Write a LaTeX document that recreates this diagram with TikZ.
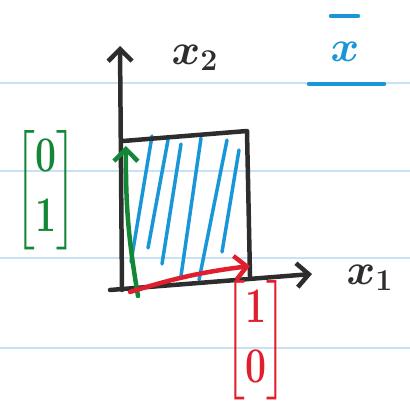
\documentclass[tikz,border=0pt]{standalone}
\usepackage{amsmath}
\usetikzlibrary{arrows.meta}
\definecolor{ink}{RGB}{45,45,45}
\definecolor{penblue}{RGB}{25,150,215}
\definecolor{pengreen}{RGB}{20,135,55}
\definecolor{penred}{RGB}{225,30,45}
\definecolor{rule}{RGB}{200,225,245}
\tikzset{
  pen/.style={line width=4.5pt, line cap=round, line join=round},
  rulestyle/.style={draw=rule, line width=1.5pt},
  hatch/.style={pen, draw=penblue, line width=3.5pt},
  openhead/.style={-{Straight Barb[length=12pt,width=24pt,line width=4.5pt]}},
  lbl/.style={inner sep=0pt},
}
\newcommand{\biglbl}[1]{\scalebox{2.1}{\huge\boldmath #1}}
\newcommand{\vecbig}[1]{\scalebox{1.8}[2.4]{\huge\boldmath #1}}
\begin{document}
\begin{tikzpicture}[x=1pt,y=-1pt]
\useasboundingbox (0,0) rectangle (410,409);
% ruled lines
\foreach \yy in {83,171,258,348} \draw[rulestyle] (0,\yy) -- (410,\yy);
% coordinates
\coordinate (O) at (122,290);
\coordinate (Y) at (120,46);
\coordinate (Xs) at (110,290);
\coordinate (X) at (312,274);
\coordinate (TL) at (123,141);
\coordinate (TR) at (247,131);
\coordinate (BR) at (250,276);
% hatching
\draw[hatch] (131,262) -- (152,136);
\draw[hatch] (148,248) -- (168,140);
\draw[hatch] (162,264) -- (181,144);
\draw[hatch] (181,276) -- (201,138);
\draw[hatch] (199,280) -- (227,140);
\draw[hatch] (222,252) -- (239,150);
% axes
\draw[pen, draw=ink, openhead] (O) -- (Y);
\draw[pen, draw=ink, openhead] (Xs) -- (X);
% square
\draw[pen, draw=ink] (TL) -- (TR) -- (BR);
% vectors
\coordinate (G0) at (138,296);
\coordinate (G1) at (126,146);
\draw[pen, draw=pengreen, openhead] (G0) to[bend left=5] (G1);
\coordinate (R0) at (130,292);
\coordinate (R1) at (250,266);
\draw[pen, draw=penred, openhead] (R0) to[bend left=5] (R1);
% labels
\node[lbl, text=ink] (x2) at (195,58) {\biglbl{$x_2$}};
\node[lbl, text=ink] (x1) at (370,278) {\biglbl{$x_1$}};
\node[lbl, text=penblue] (xbar) at (345,52) {\biglbl{$x$}};
\draw[pen, draw=penblue] (331,16) -- (358,16);
\draw[pen, draw=penblue] (309,84) -- (384,84);
\node[lbl, text=pengreen] (e2) at (46,190) {\vecbig{$\begin{bmatrix}0\\1\end{bmatrix}$}};
\node[lbl, text=penred] (e1) at (256,340) {\vecbig{$\begin{bmatrix}1\\0\end{bmatrix}$}};
\end{tikzpicture}
\end{document}
